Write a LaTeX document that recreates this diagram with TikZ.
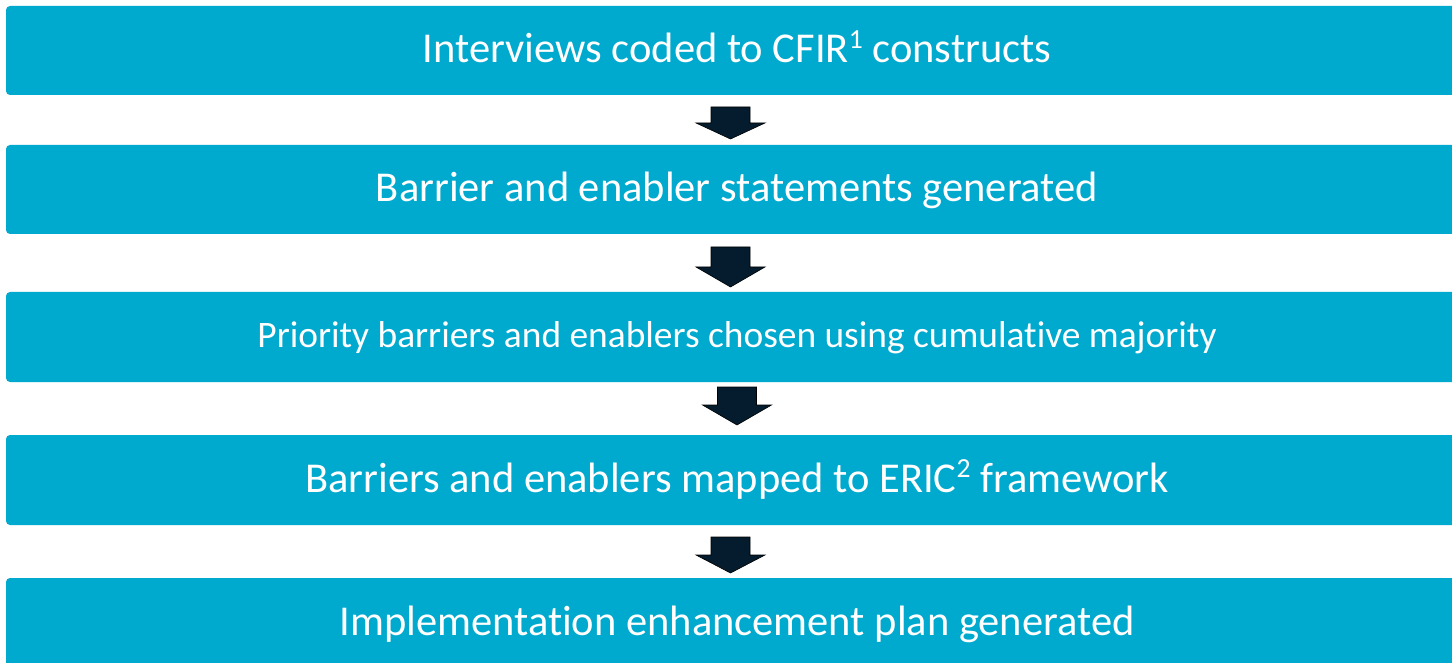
\documentclass[tikz,border=0pt]{standalone}
\usepackage{fontspec}
\setmainfont{Carlito}[Ligatures={NoCommon}]
\usetikzlibrary{calc}
\definecolor{boxcyan}{RGB}{0,169,206}
\definecolor{arrownavy}{RGB}{4,28,46}
\tikzset{
  stepbox/.style={fill=boxcyan, rounded corners=4pt, text=white, inner sep=0pt},
  steptext/.style={text=white, font=\fontsize{42.5}{48}\selectfont, anchor=base},
  blockarr/.style={fill=arrownavy, draw=black, line width=0.6pt, line join=miter}
}
\newcommand\supnum[1]{\raisebox{0.33em}{\fontsize{27.6}{30}\selectfont #1}}
% #1 center x, #2 shaft top y, #3 head top y, #4 tip y (pixel coords)
\newcommand\barrowshape[4]{%
  \path[blockarr] (#1-19.5,-#2) -- (#1+19.5,-#2) -- (#1+19.5,-#3) -- (#1+34.5,-#3)
    -- (#1,-#4) -- (#1-34.5,-#3) -- (#1-19.5,-#3) -- cycle;}
\begin{document}
\begin{tikzpicture}[x=1pt,y=1pt]
\useasboundingbox (0,0) rectangle (1452,-663);
\path[stepbox] (6,-6) rectangle (1470,-95);
\path[stepbox] (6,-145) rectangle (1470,-234);
\path[stepbox] (6,-292) rectangle (1470,-382);
\path[stepbox] (6,-435) rectangle (1470,-525);
\path[stepbox] (6,-578) rectangle (1470,-675);
\node[steptext] (t1) at (737,-63) {Interviews coded to CFIR\supnum{1} constructs};
\node[steptext] (t2) at (737,-202) {Barrier and enabler statements generated};
\node[steptext, font=\fontsize{37.4}{42}\selectfont] (t3) at (737,-347) {Priority barriers and enablers chosen using cumulative majority};
\node[steptext] (t4) at (737,-492) {Barriers and enablers mapped to ERIC\supnum{2} framework};
\node[steptext] (t5) at (737,-635) {Implementation enhancement plan generated};
\barrowshape{730.5}{107}{123}{139}
\barrowshape{730.5}{247}{267}{287}
\barrowshape{737}{387}{405}{425}
\barrowshape{730.5}{537}{555}{573}
\end{tikzpicture}
\end{document}
